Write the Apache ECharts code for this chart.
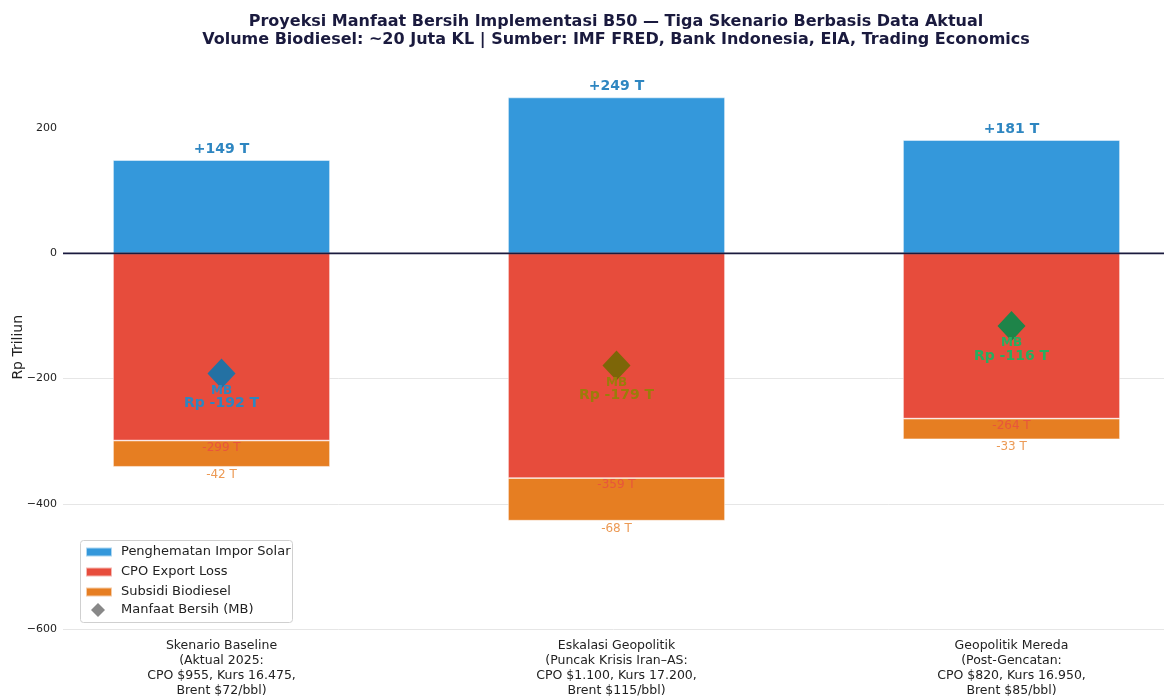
<!DOCTYPE html>
<html>
<head>
<meta charset="utf-8">
<title>Proyeksi Manfaat Bersih Implementasi B50</title>
<script src="https://cdn.jsdelivr.net/npm/echarts@6/dist/echarts.min.js"></script>
<style>
  html, body { margin: 0; padding: 0; background: #ffffff; }
  #chart { width: 1164px; height: 700px; }
</style>
</head>
<body>
<div id="chart"></div>
<script>
// Scenario labels (x axis)
const scenarios = [
  'Skenario Baseline\n(Aktual 2025:\nCPO $955, Kurs 16.475,\nBrent $72/bbl)',
  'Eskalasi Geopolitik\n(Puncak Krisis Iran\u2013AS:\nCPO $1.100, Kurs 17.200,\nBrent $115/bbl)',
  'Geopolitik Mereda\n(Post-Gencatan:\nCPO $820, Kurs 16.950,\nBrent $85/bbl)'
];

// Components, Rp trillion
const penghematanImpor = [149, 249, 181];
const cpoExportLoss = [-299, -359, -264];
const subsidiBiodiesel = [-42, -68, -33];
const manfaatBersih = [-192, -179, -116];

// Y-axis ticks and the zero reference line
const yTicks = [-600, -400, -200, 0, 200];
const zeroLine = [[0, 0], [1, 0]];

const mbDiamondColors = ['#2471a3', '#7d6608', '#1e8449'];
const mbTextColors = ['#2e86c1', '#9a7d0a', '#27ae60'];

const chart = echarts.init(document.getElementById('chart'), null, { renderer: 'canvas' });

const minus = s => String(s).replace('-', '\u2212');

const mbRich = {};
mbTextColors.forEach((c, i) => {
  mbRich['a' + i] = { color: c, fontSize: 12, fontWeight: 'bold', lineHeight: 12, align: 'center' };
  mbRich['b' + i] = { color: c, fontSize: 14, fontWeight: 'bold', lineHeight: 14, align: 'center' };
});

const Y_MIN = -600, Y_MAX = 300;
const barEdge = { borderColor: 'rgba(255,255,255,0.6)', borderWidth: 0.8 };
const DIAMOND = 'path://M5,0L10,5L5,10L0,5Z';

const legendText = { fontSize: 13, color: '#222', lineHeight: 14 };

const option = {
  backgroundColor: '#ffffff',
  animation: false,
  textStyle: { fontFamily: 'DejaVu Sans' },
  title: {
    text: 'Proyeksi Manfaat Bersih Implementasi B50 \u2014 Tiga Skenario Berbasis Data Aktual\nVolume Biodiesel: ~20 Juta KL | Sumber: IMF FRED, Bank Indonesia, EIA, Trading Economics',
    left: 611,
    top: 8,
    textAlign: 'center',
    textStyle: { fontSize: 16, fontWeight: 'bold', color: '#1a1a3e', lineHeight: 18 }
  },
  // legend frame
  graphic: [{
    type: 'rect',
    left: 80,
    top: 540,
    z: 10,
    silent: true,
    shape: { width: 212, height: 82, r: 3 },
    style: { fill: '#ffffff', stroke: '#d0d0d0', lineWidth: 1 }
  }],
  legend: [
    {
      orient: 'vertical',
      left: 80,
      top: 540,
      z: 11,
      padding: [5, 5, 0, 5],
      itemGap: 6,
      itemWidth: 26,
      itemHeight: 9,
      textStyle: Object.assign({ padding: [0, 0, 0, 4] }, legendText),
      data: [
        { name: 'Penghematan Impor Solar', icon: 'rect' },
        { name: 'CPO Export Loss', icon: 'rect' },
        { name: 'Subsidi Biodiesel', icon: 'rect' }
      ]
    },
    {
      orient: 'vertical',
      left: 80,
      top: 603,
      z: 11,
      padding: [0, 5, 0, 11],
      itemWidth: 14,
      itemHeight: 14,
      textStyle: Object.assign({ padding: [0, 0, 0, 11] }, legendText),
      data: [
        { name: 'Manfaat Bersih (MB)', icon: DIAMOND, itemStyle: { color: '#888888', opacity: 1 } }
      ]
    }
  ],
  grid: [
    // bars and scenario labels: one 395px band per scenario
    { left: 24, width: 1185, top: 65.5, bottom: 71, containLabel: false, outerBoundsMode: 'none' },
    // value axis, gridlines and zero line
    { left: 63, right: 0, top: 65.5, bottom: 71, containLabel: false, outerBoundsMode: 'none' }
  ],
  xAxis: [
    {
      type: 'category',
      gridIndex: 0,
      data: scenarios,
      axisLine: { show: false },
      axisTick: { show: false },
      splitLine: { show: false },
      axisLabel: {
        fontSize: 12.5,
        lineHeight: 15,
        color: '#222',
        margin: 9,
        interval: 0
      }
    },
    {
      type: 'value',
      gridIndex: 1,
      min: 0,
      max: 1,
      show: false
    }
  ],
  yAxis: [
    {
      type: 'value',
      gridIndex: 0,
      min: Y_MIN,
      max: Y_MAX,
      show: false,
      splitLine: { show: false }
    },
    {
      type: 'value',
      gridIndex: 1,
      min: Y_MIN,
      max: Y_MAX,
      name: 'Rp Triliun',
      nameLocation: 'middle',
      nameGap: 38,
      nameMoveOverlap: false,
      nameTextStyle: { fontSize: 14, color: '#222' },
      axisLine: { show: false },
      axisTick: { show: false, customValues: yTicks },
      axisLabel: {
        customValues: yTicks,
        formatter: v => minus(v),
        fontSize: 11,
        color: '#222',
        margin: 6
      },
      splitLine: { show: true, showMaxLine: false, lineStyle: { color: '#e6e6e6', width: 1 } }
    }
  ],
  series: [
    {
      name: 'Penghematan Impor Solar',
      type: 'bar',
      xAxisIndex: 0,
      yAxisIndex: 0,
      stack: 'komponen',
      barWidth: 217,
      data: penghematanImpor,
      itemStyle: Object.assign({ color: '#3498db' }, barEdge),
      label: {
        show: true,
        position: 'top',
        distance: 4,
        formatter: p => '+' + p.value + ' T',
        fontSize: 14,
        fontWeight: 'bold',
        color: '#2e86c1'
      }
    },
    {
      name: 'CPO Export Loss',
      type: 'bar',
      xAxisIndex: 0,
      yAxisIndex: 0,
      stack: 'komponen',
      barWidth: 217,
      data: cpoExportLoss,
      itemStyle: Object.assign({ color: '#e74c3c' }, barEdge),
      label: {
        show: true,
        position: 'bottom',
        distance: 1,
        formatter: p => p.value + ' T',
        fontSize: 12,
        color: '#e8553c'
      }
    },
    {
      name: 'Subsidi Biodiesel',
      type: 'bar',
      xAxisIndex: 0,
      yAxisIndex: 0,
      stack: 'komponen',
      barWidth: 217,
      data: subsidiBiodiesel,
      itemStyle: Object.assign({ color: '#e67e22' }, barEdge),
      label: {
        show: true,
        position: 'bottom',
        distance: 2,
        formatter: p => p.value + ' T',
        fontSize: 12,
        color: '#ec9a55'
      }
    },
    {
      name: 'Manfaat Bersih (MB)',
      type: 'scatter',
      xAxisIndex: 0,
      yAxisIndex: 0,
      symbol: 'diamond',
      symbolSize: [28, 30],
      z: 5,
      itemStyle: { color: '#888888', opacity: 1 },
      data: manfaatBersih.map((v, i) => ({
        value: v,
        itemStyle: { color: mbDiamondColors[i], opacity: 1 }
      })),
      label: {
        show: true,
        position: 'bottom',
        distance: -4,
        formatter: p => '{a' + p.dataIndex + '|MB}\n{b' + p.dataIndex + '|Rp ' + p.value + ' T}',
        rich: mbRich
      }
    },
    {
      name: 'garis nol',
      type: 'line',
      xAxisIndex: 1,
      yAxisIndex: 1,
      data: zeroLine,
      symbol: 'none',
      silent: true,
      z: 4,
      lineStyle: { color: '#1a1a3e', width: 1.6 }
    }
  ]
};

chart.setOption(option);
</script>
</body>
</html>
